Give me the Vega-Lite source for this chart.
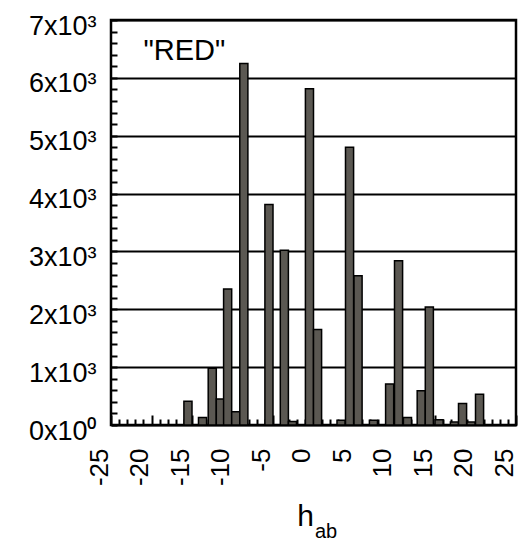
{
  "$schema": "https://vega.github.io/schema/vega-lite/v6.json",
  "autosize": "none",
  "width": 405,
  "height": 405,
  "padding": {"left": 111, "top": 20, "right": 7, "bottom": 125},
  "background": "white",
  "config": {
    "view": {"stroke": "black", "strokeWidth": 2.5},
    "font": "Liberation Sans"
  },
  "layer": [
    {
      "data": {
        "values": [
          {"lo": -16.0, "hi": -15.0, "count": 410},
          {"lo": -14.2, "hi": -13.2, "count": 130},
          {"lo": -13.0, "hi": -12.0, "count": 980},
          {"lo": -12.0, "hi": -11.0, "count": 450},
          {"lo": -11.1, "hi": -10.1, "count": 2350},
          {"lo": -10.1, "hi": -9.1, "count": 230},
          {"lo": -9.1, "hi": -8.1, "count": 6250},
          {"lo": -6.0, "hi": -5.0, "count": 3810},
          {"lo": -4.1, "hi": -3.1, "count": 3020},
          {"lo": -3.1, "hi": -2.1, "count": 60},
          {"lo": -1.0, "hi": 0.0, "count": 5810},
          {"lo": 0.0, "hi": 1.0, "count": 1650},
          {"lo": 2.9, "hi": 3.9, "count": 80},
          {"lo": 3.95, "hi": 4.95, "count": 4800},
          {"lo": 5.0, "hi": 6.0, "count": 2580},
          {"lo": 6.9, "hi": 7.9, "count": 80},
          {"lo": 8.9, "hi": 9.9, "count": 710},
          {"lo": 10.0, "hi": 11.0, "count": 2840},
          {"lo": 11.1, "hi": 12.1, "count": 130},
          {"lo": 12.8, "hi": 13.8, "count": 590},
          {"lo": 13.8, "hi": 14.8, "count": 2040},
          {"lo": 15.0, "hi": 16.0, "count": 90},
          {"lo": 16.9, "hi": 17.9, "count": 50},
          {"lo": 17.9, "hi": 18.9, "count": 370},
          {"lo": 18.95, "hi": 19.95, "count": 50},
          {"lo": 20.0, "hi": 21.0, "count": 530}
        ]
      },
      "mark": {"type": "bar", "fill": "#5b5852", "stroke": "black", "strokeWidth": 1.5},
      "encoding": {
        "x": {
          "field": "lo",
          "type": "quantitative",
          "scale": {"domain": [-25, 25], "nice": false, "zero": false},
          "axis": {
            "values": [-25,-24,-23,-22,-21,-20,-19,-18,-17,-16,-15,-14,-13,-12,-11,-10,-9,-8,-7,-6,-5,-4,-3,-2,-1,0,1,2,3,4,5,6,7,8,9,10,11,12,13,14,15,16,17,18,19,20,21,22,23,24,25],
            "tickCount": 200,
            "labelExpr": "datum.value % 5 === 0 ? '' + datum.value : ''",
            "labelOverlap": false,
            "labelFlush": false,
            "labelAngle": -90,
            "labelAlign": "right",
            "labelBaseline": "alphabetic",
            "labelOffset": -4,
            "labelFontSize": 26,
            "labelColor": "black",
            "labelPadding": 33,
            "tickSize": {"condition": {"test": "datum.value % 5 === 0", "value": -10}, "value": -6},
            "tickColor": "black",
            "tickWidth": 2,
            "domain": false,
            "grid": false,
            "title": "h",
            "titleFontSize": 30,
            "titleFontWeight": "normal",
            "titleColor": "black",
            "titleX": 194,
            "titleY": 100,
            "titleAlign": "center",
            "titleBaseline": "alphabetic"
          }
        },
        "x2": {"field": "hi"},
        "y": {
          "field": "count",
          "type": "quantitative",
          "scale": {"domain": [0, 7000], "nice": false},
          "axis": {
            "values": [0,200,400,600,800,1000,1200,1400,1600,1800,2000,2200,2400,2600,2800,3000,3200,3400,3600,3800,4000,4200,4400,4600,4800,5000,5200,5400,5600,5800,6000,6200,6400,6600,6800,7000],
            "tickCount": 200,
            "labelExpr": "datum.value % 1000 === 0 ? (datum.value === 0 ? '0x10⁰' : (datum.value / 1000) + 'x10³') : ''",
            "labelOverlap": false,
            "labelFlush": false,
            "labelFontSize": 27,
            "labelColor": "black",
            "labelBaseline": "middle",
            "labelOffset": 6,
            "labelPadding": 21,
            "tickSize": -6,
            "tickColor": "black",
            "tickWidth": 2,
            "domain": false,
            "grid": true,
            "gridColor": "black",
            "gridWidth": 2,
            "gridOpacity": {"condition": {"test": "datum.value % 1000 === 0", "value": 1}, "value": 0},
            "title": null
          }
        },
        "y2": {"datum": 0}
      }
    },
    {
      "data": {"values": [{"label": "\"RED\""}]},
      "mark": {"type": "text", "fontSize": 29, "align": "left", "baseline": "alphabetic", "color": "black", "font": "Liberation Sans"},
      "encoding": {
        "text": {"field": "label"},
        "x": {"datum": -21.0, "type": "quantitative"},
        "y": {"datum": 6317, "type": "quantitative"}
      }
    },
    {
      "data": {"values": [{"label": "ab"}]},
      "mark": {"type": "text", "fontSize": 20, "align": "center", "baseline": "alphabetic", "dy": 113, "color": "black", "font": "Liberation Sans"},
      "encoding": {
        "text": {"field": "label"},
        "x": {"datum": 1.55, "type": "quantitative"},
        "y": {"datum": 0, "type": "quantitative"}
      }
    }
  ]
}
